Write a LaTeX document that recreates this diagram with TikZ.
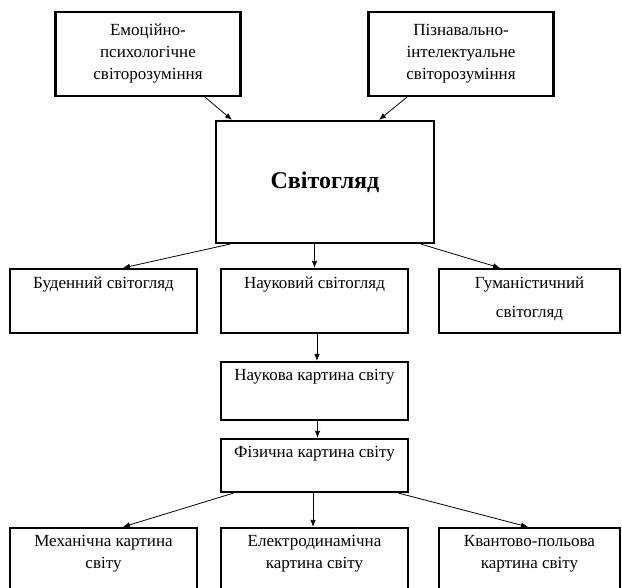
\documentclass[tikz,border=0pt]{standalone}
\usepackage{fontspec}
\setmainfont{Liberation Serif}
\usetikzlibrary{arrows.meta}

\begin{document}
\begin{tikzpicture}[x=1pt, y=-1pt, font=\fontsize{17}{22}\selectfont]
  \tikzstyle{block} = [rectangle, draw, line width=2.2pt, inner sep=0pt, align=center, minimum width=187pt, minimum height=64pt]
  \tikzstyle{toptext} = [anchor=north, yshift=-8.5pt, inner sep=0pt, align=center]
  \tikzstyle{conn} = [draw, line width=0.8pt, -{Latex[length=7pt,width=5.5pt]}]

  \clip (0,0) rectangle (622,588);

  \node [block, minimum width=185pt, minimum height=84pt] (emo) at (148,54) {Емоційно-\\психологічне\\світорозуміння};
  \node [block, minimum width=185pt, minimum height=84pt, right of=emo, node distance=313pt] (piz) {Пізнавально-\\інтелектуальне\\світорозуміння};
  \node [block, minimum width=218pt, minimum height=122pt, font=\fontsize{24}{28}\selectfont\bfseries] (svit) at (325,182) {Світогляд};

  \node [block, label={[toptext]north:Науковий світогляд}] (nauk) at (314.5,301) {};
  \node [block, left of=nauk, node distance=211pt, label={[toptext]north:Буденний світогляд}] (bud) {};
  \node [block, minimum width=181pt, right of=nauk, node distance=215pt, label={[toptext, font=\fontsize{17}{29}\selectfont]north:Гуманістичний\\світогляд}] (hum) {};

  \node [block, minimum height=58pt, below of=nauk, node distance=90pt, label={[toptext]north:Наукова картина світу}] (nkart) {};
  \node [block, minimum height=53pt, below of=nkart, node distance=74.5pt, label={[toptext]north:Фізична картина світу}] (fiz) {};

  \node [block, minimum height=92pt, below of=fiz, node distance=108.5pt, label={[toptext]north:Електродинамічна\\картина світу}] (elec) {};
  \node [block, minimum height=92pt, left of=elec, node distance=211pt, label={[toptext]north:Механічна картина\\світу}] (mech) {};
  \node [block, minimum width=181pt, minimum height=92pt, right of=elec, node distance=215pt, label={[toptext]north:Квантово-польова\\картина світу}] (kvant) {};

  \draw[conn] ([xshift=57pt]emo.south) -- ([xshift=-93pt]svit.north);
  \draw[conn] ([xshift=-54pt]piz.south) -- ([xshift=54pt]svit.north);

  \draw[conn] ([xshift=-95pt]svit.south) -- ([xshift=19.5pt]bud.north);
  \draw[conn] (nauk.north |- svit.south) -- (nauk.north);
  \draw[conn] ([xshift=96pt]svit.south) -- ([xshift=-29.5pt]hum.north);

  \draw[conn] ([xshift=2.5pt]nauk.south) -- ([xshift=2.5pt]nkart.north);
  \draw[conn] ([xshift=3pt]nkart.south) -- ([xshift=3pt]fiz.north);

  \draw[conn] ([xshift=-81pt]fiz.south) -- ([xshift=19.5pt]mech.north);
  \draw[conn] ([xshift=-1.5pt]fiz.south) -- ([xshift=-1.5pt]elec.north);
  \draw[conn] ([xshift=84pt]fiz.south) -- ([xshift=-1.5pt]kvant.north);
\end{tikzpicture}
\end{document}
